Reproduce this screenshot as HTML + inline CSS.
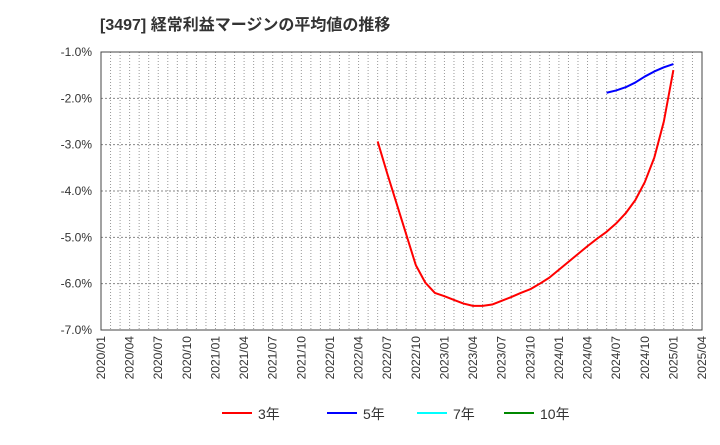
<!DOCTYPE html>
<html><head><meta charset="utf-8"><style>
body{margin:0;background:#fff;font-family:"Liberation Sans","Noto Sans CJK JP",sans-serif;}
</style></head><body>
<svg width="720" height="440" xmlns="http://www.w3.org/2000/svg" style="font-family:'Liberation Sans','Noto Sans CJK JP',sans-serif">
<text x="100" y="30" font-size="16" font-weight="bold" fill="#333">[3497]  経常利益マージンの平均値の推移</text>
<g id="grid"></g>
<rect x="101" y="52" width="601" height="278" fill="none" stroke="#444" stroke-width="1"/>
<g id="yl"></g><g id="xl"></g><g id="series"></g>
<g>
<line x1="222" y1="413" x2="252" y2="413" stroke="#f00" stroke-width="2"/><text x="258" y="419" font-size="14" fill="#333">3年</text>
<line x1="327" y1="413" x2="357" y2="413" stroke="#00f" stroke-width="2"/><text x="363" y="419" font-size="14" fill="#333">5年</text>
<line x1="417" y1="413" x2="447" y2="413" stroke="#0ff" stroke-width="2"/><text x="453" y="419" font-size="14" fill="#333">7年</text>
<line x1="504" y1="413" x2="534" y2="413" stroke="#080" stroke-width="2"/><text x="540" y="419" font-size="14" fill="#333">10年</text>
</g>
</svg>
<script>
const yTicks=[-1,-2,-3,-4,-5,-6,-7];
const xTickLabels=["2020/01","2020/04","2020/07","2020/10","2021/01","2021/04","2021/07","2021/10","2022/01","2022/04","2022/07","2022/10","2023/01","2023/04","2023/07","2023/10","2024/01","2024/04","2024/07","2024/10","2025/01","2025/04"];
const red3Start=29;
const red3=[-2.93,-3.62,-4.28,-4.94,-5.6,-5.98,-6.2,-6.27,-6.35,-6.43,-6.48,-6.48,-6.45,-6.37,-6.29,-6.2,-6.12,-6.0,-5.87,-5.7,-5.53,-5.36,-5.19,-5.03,-4.88,-4.7,-4.48,-4.2,-3.81,-3.28,-2.5,-1.39];
const blue5Start=53;
const blue5=[-1.88,-1.83,-1.76,-1.66,-1.53,-1.42,-1.33,-1.26];
const NS="http://www.w3.org/2000/svg";
const X=m=>101+m*(601/63);
const Y=v=>52+(-1-v)*(278/6);
function mk(t,a,p){const e=document.createElementNS(NS,t);for(const k in a)e.setAttribute(k,a[k]);p.appendChild(e);return e;}
const grid=document.getElementById('grid');
for(let m=1;m<63;m++){
  const l=mk('line',{x1:X(m),x2:X(m),y1:52,y2:330,stroke:'#999','stroke-dasharray':'1,2'},grid);
  
  
}
const yl=document.getElementById('yl');
yTicks.forEach(v=>{
  if(v!==-1&&v!==-7){const g=mk('line',{x1:101,x2:702,y1:Y(v),y2:Y(v),stroke:'#888','stroke-dasharray':'2,2'},grid);
  
  }
  const t=mk('text',{x:92,y:Y(v)+4,'font-size':12,fill:'#333','text-anchor':'end'},yl);
  t.textContent=v.toFixed(1)+'%';
  
  
});
const xl=document.getElementById('xl');
xTickLabels.forEach((s,i)=>{
  const x=X(i*3);
  const t=mk('text',{x:0,y:0,'font-size':12,fill:'#333','text-anchor':'end',transform:`translate(${x+4},336) rotate(-90)`},xl);
  t.textContent=s;
  
  
});
const se=document.getElementById('series');
function line(arr,start,col,name){
  const p=mk('polyline',{points:arr.map((v,i)=>X(start+i)+','+Y(v)).join(' '),fill:'none',stroke:col,'stroke-width':2,'stroke-linejoin':'round'},se);
  
  
}
line(red3,red3Start,'#f00','series-3y');
line(blue5,blue5Start,'#00f','series-5y');
</script>
</body></html>
